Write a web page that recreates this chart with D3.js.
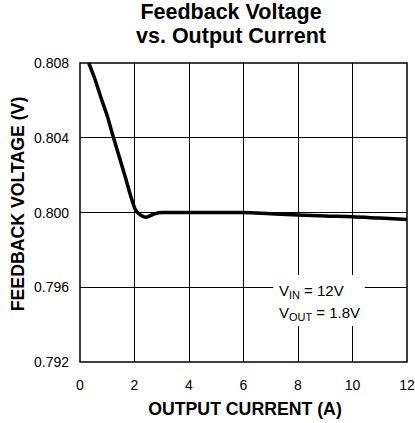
<!DOCTYPE html>
<html lang="en">
<head>
    <meta charset="UTF-8">
    <title>Feedback Voltage vs. Output Current</title>
    <style>
        body { margin: 0; background: #fff; }
        text { font-family: "Liberation Sans", Arial, sans-serif; fill: #000; }
        .grid line { stroke: #000; stroke-width: 1; shape-rendering: crispEdges; }
    </style>
</head>
<body>
    <div id="chart"></div>
    <script src="https://d3js.org/d3.v7.min.js"></script>
    <script>
        // data
        var current = [0.32, 0.53, 0.77, 1.02, 1.23, 1.45, 1.67, 1.88, 2.03, 2.19, 2.41, 2.74, 3.0, 4.0, 5.0, 6.0, 7.0, 8.0, 9.0, 10.0, 11.0, 12.0];
        var voltage = [0.808, 0.80721, 0.80614, 0.80507, 0.804, 0.80293, 0.80186, 0.80079, 0.80016, 0.7999, 0.79975, 0.79993, 0.8000, 0.8000, 0.8000, 0.8000, 0.79993, 0.79986, 0.79981, 0.79977, 0.7997, 0.79963];
        var xTicks = [0, 2, 4, 6, 8, 10, 12];
        var yTicks = [0.792, 0.796, 0.800, 0.804, 0.808];

        var margin = { top: 63, right: 8, bottom: 61, left: 80 };
        var width = 415 - margin.left - margin.right;
        var height = 423 - margin.top - margin.bottom;

        var x = d3.scaleLinear().domain([0, 12]).range([0, width]);
        var y = d3.scaleLinear().domain([0.792, 0.808]).range([height, 0]);

        var root = d3.select("#chart").append("svg")
            .attr("width", 415)
            .attr("height", 423);

        var svg = root.append("g")
            .attr("transform", "translate(" + margin.left + "," + margin.top + ")");

        // grid
        var grid = svg.append("g").attr("class", "grid");
        grid.selectAll(".vx").data(xTicks.slice(1, -1)).enter().append("line")
            .attr("x1", function (d) { return x(d); })
            .attr("x2", function (d) { return x(d); })
            .attr("y1", 0).attr("y2", height);
        grid.selectAll(".hy").data(yTicks.slice(1, -1)).enter().append("line")
            .attr("x1", 0).attr("x2", width)
            .attr("y1", function (d) { return y(d); })
            .attr("y2", function (d) { return y(d); });

        // legend background clears the grid
        svg.append("rect")
            .attr("x", x(7.09)).attr("y", y(0.79666))
            .attr("width", x(10.45) - x(7.09)).attr("height", y(0.79393) - y(0.79666))
            .attr("fill", "#fff");

        // frame
        svg.append("rect")
            .attr("width", width).attr("height", height)
            .attr("fill", "none").attr("stroke", "#000").attr("stroke-width", 1.5);

        var legend = svg.append("g").attr("font-size", 15);
        var t1 = legend.append("text").attr("x", x(7.3)).attr("y", y(0.79554));
        t1.append("tspan").text("V");
        t1.append("tspan").attr("font-size", 11).attr("dy", 3).text("IN");
        t1.append("tspan").attr("dy", -3).text(" = 12V");
        var t2 = legend.append("text").attr("x", x(7.3)).attr("y", y(0.79436));
        t2.append("tspan").text("V");
        t2.append("tspan").attr("font-size", 11).attr("dy", 3).text("OUT");
        t2.append("tspan").attr("dy", -3).text(" = 1.8V");

        // curve
        var line = d3.line()
            .x(function (d, i) { return x(current[i]); })
            .y(function (d) { return y(d); })
            .curve(d3.curveMonotoneX);
        svg.append("path")
            .attr("d", line(voltage))
            .attr("fill", "none")
            .attr("stroke", "#000")
            .attr("stroke-width", 3.5)
            .attr("stroke-linejoin", "round");

        // tick labels
        svg.selectAll(".xt").data(xTicks).enter().append("text")
            .attr("x", function (d) { return x(d); })
            .attr("y", height + 28)
            .attr("text-anchor", "middle")
            .attr("font-size", 14)
            .text(function (d) { return d; });
        svg.selectAll(".yt").data(yTicks).enter().append("text")
            .attr("x", -11)
            .attr("y", function (d) { return y(d) + 5; })
            .attr("text-anchor", "end")
            .attr("font-size", 14)
            .text(function (d) { return d3.format(".3f")(d); });

        // titles
        root.append("text").attr("x", 231).attr("y", 19)
            .attr("text-anchor", "middle").attr("font-size", 21.5).attr("font-weight", "bold")
            .text("Feedback Voltage");
        root.append("text").attr("x", 231).attr("y", 43)
            .attr("text-anchor", "middle").attr("font-size", 21.5).attr("font-weight", "bold")
            .text("vs. Output Current");
        root.append("text").attr("x", 245).attr("y", 415)
            .attr("text-anchor", "middle").attr("font-size", 17.7).attr("font-weight", "bold")
            .text("OUTPUT CURRENT (A)");
        root.append("text")
            .attr("transform", "translate(23.5,204) rotate(-90)")
            .attr("text-anchor", "middle").attr("font-size", 17.7).attr("font-weight", "bold")
            .text("FEEDBACK VOLTAGE (V)");
    </script>
</body>
</html>
